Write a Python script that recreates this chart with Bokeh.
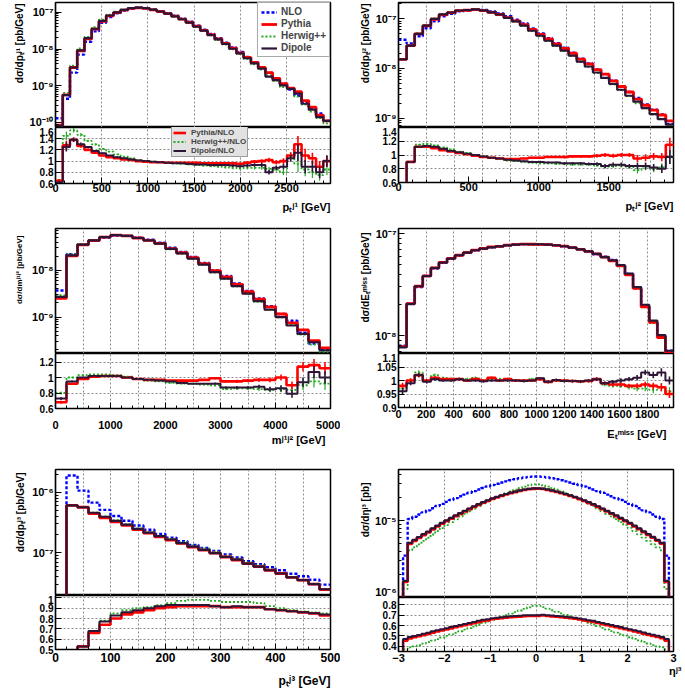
import numpy as np
from bokeh.plotting import figure
from bokeh.layouts import column, row
from bokeh.models import (Range1d, FixedTicker, CustomJSTickFormatter, Legend, LegendItem, Title)
from bokeh.embed import file_html
from bokeh.resources import INLINE

FONT = "Liberation Sans"
C_NLO, C_PY, C_HW, C_DI = "#0000ff", "#ff0000", "#22aa22", "#2e1437"

# ---------------- data ----------------
# panel 1 : pT j1
p1_edges = (0, 2975)
p1_nlo = [1.32e-10, 4.47e-10, 2.29e-9, 7.08e-9, 1.58e-8, 3.02e-8, 5.13e-8, 7.41e-8, 9.33e-8, 1.11e-7,
          1.25e-7, 1.32e-7, 1.29e-7, 1.19e-7, 1.07e-7, 9.4e-8, 8.09e-8, 6.73e-8, 5.52e-8, 4.34e-8,
          3.37e-8, 2.58e-8, 1.96e-8, 1.49e-8, 1.11e-8, 8.34e-9, 6.11e-9, 4.39e-9, 3.16e-9, 2.24e-9,
          1.62e-9, 1.15e-9, 7.94e-10, 5.37e-10, 3.63e-10, 2.51e-10, 1.78e-10, 1.12e-10]
p1_py = [0.65, 1.28, 1.38, 1.27, 1.2, 1.15, 1.1, 1.07, 1.05, 1.03, 1.02, 1.0, 0.99, 0.98, 0.98, 0.97, 0.97, 0.97,
         0.97, 0.97, 0.96, 0.96, 0.96, 0.96, 0.96, 0.95, 0.97, 0.99, 1.0, 1.02, 0.98, 1.0, 1.1, 1.3, 1.1, 1.05, 0.9, 1.0]
p1_hw = [0.65, 1.45, 1.55, 1.47, 1.36, 1.3, 1.22, 1.17, 1.12, 1.08, 1.05, 1.02, 1.0, 0.99, 0.98, 0.97, 0.96, 0.95,
         0.94, 0.93, 0.92, 0.91, 0.9, 0.89, 0.88, 0.87, 0.88, 0.88, 0.88, 0.86, 0.85, 0.8, 1.1, 0.95, 0.85, 0.8, 0.75, 0.85]
p1_di = [0.62, 1.25, 1.38, 1.3, 1.25, 1.18, 1.14, 1.1, 1.07, 1.05, 1.03, 1.01, 1.0, 0.99, 0.98, 0.97, 0.96, 0.96,
         0.95, 0.94, 0.94, 0.93, 0.93, 0.93, 0.92, 0.91, 0.92, 0.93, 0.93, 0.8, 0.88, 0.9, 1.05, 1.15, 0.9, 0.9, 0.8, 1.0]
p1_err = [0.03, 0.08, 0.04, 0.03, 0.02, 0.02, 0.015, 0.01, 0.01, 0.01, 0.01, 0.01, 0.01, 0.01, 0.01, 0.01, 0.01, 0.01,
          0.015, 0.015, 0.015, 0.02, 0.02, 0.02, 0.025, 0.025, 0.03, 0.03, 0.035, 0.04, 0.04, 0.05, 0.06, 0.15,
          0.12, 0.1, 0.1, 0.1]

# panel 2 : pT j2
p2_edges = (0, 1965)
p2_nlo = [3.8e-8, 3.2e-8, 4.47e-8, 6.49e-8, 8.93e-8, 1.13e-7, 1.27e-7, 1.42e-7, 1.48e-7, 1.55e-7,
          1.51e-7, 1.41e-7, 1.29e-7, 1.13e-7, 9.68e-8, 8.05e-8, 6.4e-8, 5.08e-8, 4.07e-8, 3.24e-8,
          2.61e-8, 2.07e-8, 1.57e-8, 1.26e-8, 9.55e-9, 7.69e-9, 5.7e-9, 4.33e-9, 3.36e-9, 2.55e-9,
          1.89e-9, 1.47e-9, 1.19e-9, 7.64e-10]
p2_py = [0.4, 0.9, 1.12, 1.12, 1.1, 1.07, 1.05, 1.03, 1.01, 0.99, 0.97, 0.96, 0.95, 0.94, 0.94, 0.95, 0.96,
         0.96, 0.97, 0.97, 0.97, 0.98, 0.98, 0.98, 0.99, 1.0, 0.99, 1.0, 1.0, 0.95, 0.96, 0.98, 0.97, 1.15]
p2_hw = [0.4, 0.9, 1.15, 1.16, 1.14, 1.11, 1.08, 1.05, 1.03, 1.0, 0.98, 0.96, 0.94, 0.92, 0.91, 0.9, 0.89,
         0.88, 0.88, 0.87, 0.87, 0.86, 0.86, 0.86, 0.85, 0.83, 0.84, 0.85, 0.83, 0.78, 0.83, 0.8, 0.82, 0.97]
p2_di = [0.4, 0.9, 1.12, 1.13, 1.12, 1.09, 1.06, 1.04, 1.02, 1.0, 0.98, 0.96, 0.95, 0.93, 0.92, 0.91, 0.9,
         0.9, 0.89, 0.89, 0.88, 0.88, 0.88, 0.87, 0.87, 0.84, 0.86, 0.86, 0.84, 0.84, 0.84, 0.82, 0.8, 0.97]
p2_err = [0.02, 0.01, 0.01, 0.01, 0.01, 0.01, 0.01, 0.01, 0.01, 0.01, 0.01, 0.01, 0.01, 0.01, 0.01, 0.01,
          0.015, 0.015, 0.015, 0.015, 0.02, 0.02, 0.02, 0.02, 0.025, 0.03, 0.03, 0.03, 0.03, 0.05, 0.05,
          0.05, 0.06, 0.1]

# panel 3 : m j1j2
p3_edges = (0, 5000)
p3_nlo = [3.69e-9, 2.2e-8, 3.55e-8, 4.28e-8, 5.02e-8, 5.51e-8, 5.43e-8, 5.0e-8, 4.5e-8, 3.87e-8,
          3.03e-8, 2.47e-8, 1.93e-8, 1.43e-8, 9.9e-9, 7.59e-9, 5.25e-9, 3.63e-9, 2.49e-9, 1.7e-9,
          1.16e-9, 8.35e-10, 4.65e-10, 2.7e-10, 1.95e-10]
p3_py = [0.68, 0.92, 0.98, 1.01, 1.02, 1.02, 1.0, 0.98, 0.97, 0.97, 0.96, 0.96, 0.96, 0.97, 0.99, 0.95,
         0.95, 0.96, 0.97, 0.97, 1.0, 0.9, 1.14, 1.16, 1.12]
p3_hw = [0.8, 1.0, 1.03, 1.04, 1.04, 1.03, 1.01, 0.98, 0.96, 0.95, 0.93, 0.92, 0.92, 0.91, 0.9, 0.85,
         0.86, 0.86, 0.85, 0.84, 0.85, 0.84, 0.9, 0.95, 0.92]
p3_di = [0.73, 0.95, 1.0, 1.02, 1.02, 1.02, 1.0, 0.98, 0.97, 0.96, 0.95, 0.93, 0.92, 0.92, 0.92, 0.87,
         0.87, 0.87, 0.88, 0.85, 0.86, 0.79, 0.94, 1.07, 1.0]
p3_err = [0.02, 0.01, 0.01, 0.005, 0.005, 0.005, 0.005, 0.005, 0.005, 0.005, 0.01, 0.01, 0.01, 0.01,
          0.015, 0.015, 0.02, 0.02, 0.025, 0.03, 0.04, 0.05, 0.06, 0.08, 0.08]

# panel 4 : missing ET
p4_edges = (0, 1990)
p4_nlo = [8.0e-9, 2.06e-8, 2.99e-8, 3.85e-8, 4.57e-8, 5.19e-8, 5.68e-8, 6.1e-8, 6.5e-8, 6.86e-8,
          7.14e-8, 7.33e-8, 7.5e-8, 7.67e-8, 7.8e-8, 7.87e-8, 7.85e-8, 7.79e-8, 7.83e-8, 7.66e-8,
          7.52e-8, 7.3e-8, 7.03e-8, 6.7e-8, 6.28e-8, 5.94e-8, 5.5e-8, 4.9e-8, 4.03e-8, 2.96e-8,
          1.95e-8, 1.38e-8, 9.86e-9, 7.13e-9]
p4_py = [0.98, 1.0, 1.02, 1.0, 1.01, 1.005, 1.005, 1.005, 1.0, 1.005, 1.0, 1.01, 1.0, 1.005, 1.0, 1.0, 1.0,
         1.005, 0.995, 1.0, 1.0, 0.998, 0.997, 0.998, 1.005, 0.99, 0.985, 0.985, 0.98, 0.98, 0.985, 0.98,
         0.975, 0.95]
p4_hw = [0.97, 1.0, 1.03, 1.0, 1.02, 1.01, 1.005, 1.005, 1.005, 1.01, 1.0, 1.005, 1.005, 1.005, 1.0, 1.0,
         1.005, 1.008, 0.995, 1.0, 1.0, 0.998, 0.995, 0.998, 1.005, 0.985, 0.98, 0.98, 0.975, 0.97, 0.97,
         0.965, 0.975, 0.96]
p4_di = [0.96, 0.99, 1.02, 0.995, 1.005, 1.0, 1.0, 1.005, 1.0, 1.0, 0.997, 1.0, 1.0, 1.0, 1.0, 0.998, 1.0,
         1.008, 0.995, 1.002, 0.998, 0.998, 0.997, 1.0, 1.005, 0.99, 0.995, 1.0, 1.005, 1.01, 1.03, 1.02,
         1.03, 1.0]
p4_err = [0.012, 0.008, 0.008, 0.006, 0.006, 0.005, 0.005, 0.005, 0.005, 0.005, 0.005, 0.005, 0.005, 0.005,
          0.005, 0.005, 0.005, 0.005, 0.005, 0.005, 0.005, 0.005, 0.005, 0.005, 0.006, 0.006, 0.007, 0.008,
          0.008, 0.01, 0.01, 0.012, 0.015, 0.015]

# panel 5 : pT j3
p5_edges = (0, 500)
p5_nlo = [1e-9, 1.91e-6, 1.07e-6, 6.76e-7, 5.13e-7, 4.07e-7, 3.39e-7, 2.82e-7, 2.4e-7, 2.04e-7,
          1.78e-7, 1.55e-7, 1.35e-7, 1.2e-7, 1.07e-7, 9.33e-8, 8.32e-8, 7.24e-8, 6.46e-8, 5.75e-8,
          5.13e-8, 4.47e-8, 4.07e-8, 3.55e-8, 2.95e-8]
p5_py = [0.4, 0.32, 0.53, 0.66, 0.74, 0.8, 0.84, 0.86, 0.88, 0.9, 0.91, 0.92, 0.92, 0.92, 0.92, 0.91, 0.91,
         0.91, 0.91, 0.89, 0.88, 0.87, 0.86, 0.85, 0.83]
p5_hw = [0.4, 0.32, 0.53, 0.68, 0.78, 0.85, 0.88, 0.9, 0.91, 0.93, 0.95, 0.97, 0.98, 0.98, 0.97, 0.96, 0.96,
         0.96, 0.95, 0.92, 0.9, 0.88, 0.87, 0.86, 0.85]
p5_di = [0.4, 0.32, 0.53, 0.68, 0.77, 0.83, 0.86, 0.88, 0.9, 0.92, 0.93, 0.93, 0.93, 0.93, 0.92, 0.91, 0.92,
         0.91, 0.91, 0.89, 0.88, 0.87, 0.86, 0.85, 0.84]

# panel 6 : eta j3
p6_edges = (-3, 3)
p6_nlo = [5.0e-7, 3.5e-6, 1.05e-5, 1.12e-5, 1.2e-5, 1.28e-5, 1.36e-5, 1.45e-5, 1.55e-5, 1.65e-5,
          1.75e-5, 1.85e-5, 1.96e-5, 2.07e-5, 2.18e-5, 2.3e-5, 2.42e-5, 2.54e-5, 2.66e-5, 2.78e-5,
          2.9e-5, 3.02e-5, 3.13e-5, 3.24e-5, 3.35e-5, 3.45e-5, 3.55e-5, 3.63e-5, 3.7e-5, 3.75e-5,
          3.75e-5, 3.7e-5, 3.63e-5, 3.55e-5, 3.45e-5, 3.35e-5, 3.24e-5, 3.13e-5, 3.02e-5, 2.9e-5,
          2.78e-5, 2.66e-5, 2.54e-5, 2.42e-5, 2.3e-5, 2.18e-5, 2.07e-5, 1.96e-5, 1.85e-5, 1.75e-5,
          1.65e-5, 1.55e-5, 1.45e-5, 1.36e-5, 1.28e-5, 1.2e-5, 1.12e-5, 1.05e-5, 3.5e-6, 5.0e-7]
p6_py = [0.3, 0.455, 0.475, 0.488, 0.498, 0.508, 0.518, 0.532, 0.543, 0.553, 0.563, 0.573, 0.583, 0.593,
         0.603, 0.613, 0.623, 0.633, 0.643, 0.65, 0.66, 0.665, 0.67, 0.675, 0.68, 0.683, 0.686, 0.69, 0.692,
         0.692, 0.693, 0.697, 0.692, 0.688, 0.684, 0.68, 0.675, 0.67, 0.665, 0.658, 0.65, 0.642, 0.634,
         0.624, 0.614, 0.604, 0.594, 0.584, 0.574, 0.564, 0.554, 0.544, 0.533, 0.521, 0.51, 0.5, 0.49,
         0.477, 0.455, 0.3]
p6_hw = [0.3, 0.37, 0.39, 0.4, 0.41, 0.425, 0.44, 0.455, 0.47, 0.485, 0.5, 0.515, 0.53, 0.545, 0.56, 0.575,
         0.59, 0.61, 0.625, 0.64, 0.655, 0.67, 0.685, 0.7, 0.715, 0.73, 0.745, 0.76, 0.775, 0.79,
         0.79, 0.778, 0.762, 0.747, 0.732, 0.717, 0.702, 0.687, 0.672, 0.657, 0.642, 0.627, 0.612, 0.594,
         0.578, 0.562, 0.547, 0.532, 0.517, 0.502, 0.487, 0.472, 0.457, 0.442, 0.427, 0.412, 0.4, 0.39,
         0.37, 0.3]
p6_di = [0.3, 0.47, 0.49, 0.5, 0.51, 0.52, 0.53, 0.545, 0.555, 0.565, 0.575, 0.585, 0.595, 0.605, 0.615,
         0.625, 0.635, 0.645, 0.655, 0.66, 0.67, 0.675, 0.68, 0.685, 0.69, 0.692, 0.695, 0.698, 0.7, 0.7,
         0.7, 0.705, 0.7, 0.697, 0.693, 0.69, 0.685, 0.68, 0.675, 0.668, 0.66, 0.652, 0.645, 0.635, 0.625,
         0.615, 0.605, 0.595, 0.585, 0.575, 0.565, 0.555, 0.545, 0.533, 0.522, 0.512, 0.502, 0.49, 0.47, 0.3]

# axis ranges and tick labels
p1_xlim, p1_ylim, p1_rlim = (0, 2975), (7.4e-11, 1.84e-7), (0.6, 1.6)
p2_xlim, p2_ylim, p2_rlim = (0, 1962), (6.46e-10, 2.14e-7), (0.6, 1.4)
p3_xlim, p3_ylim, p3_rlim = (0, 5000), (1.66e-10, 7.82e-8), (0.6, 1.31)
p4_xlim, p4_ylim, p4_rlim = (0, 1990), (6.7e-9, 1.12e-7), (0.9, 1.1)
p5_xlim, p5_ylim, p5_rlim = (0, 500), (1.95e-8, 2.4e-6), (0.5, 1.023)
p6_xlim, p6_ylim, p6_rlim = (-3, 3), (1.0e-6, 4.62e-5), (0.35, 0.87)
p1_yticks, p1_rticks = [1e-10, 1e-9, 1e-8, 1e-7], [0.6, 0.8, 1.0, 1.2, 1.4, 1.6]
p2_yticks, p2_rticks = [1e-9, 1e-8, 1e-7], [0.6, 0.8, 1.0, 1.2, 1.4]
p3_yticks, p3_rticks = [1e-9, 1e-8], [0.6, 0.8, 1.0, 1.2]
p4_yticks, p4_rticks = [1e-8, 1e-7], [0.9, 0.95, 1.0, 1.05, 1.1]
p5_yticks, p5_rticks = [1e-7, 1e-6], [0.5, 0.6, 0.7, 0.8, 0.9, 1.0]
p6_yticks, p6_rticks = [1e-6, 1e-5], [0.4, 0.5, 0.6, 0.7, 0.8]
p1_xticks = [0, 500, 1000, 1500, 2000, 2500]
p2_xticks = [0, 500, 1000, 1500]
p3_xticks = [0, 1000, 2000, 3000, 4000, 5000]
p4_xticks = [0, 200, 400, 600, 800, 1000, 1200, 1400, 1600, 1800]
p5_xticks = [0, 100, 200, 300, 400, 500]
p6_xticks = [-3, -2, -1, 0, 1, 2, 3]
p1_xgrid, p2_xgrid, p3_xgrid, p4_xgrid, p5_xgrid, p6_xgrid = 500, 200, 500, 200, 50, 1

# ---------------- helpers ----------------
log_fmt_code = """
const m = {'-':'\u207b','0':'\u2070','1':'\u00b9','2':'\u00b2','3':'\u00b3','4':'\u2074','5':'\u2075','6':'\u2076','7':'\u2077','8':'\u2078','9':'\u2079'};
const e = Math.round(Math.log10(tick));
return '10' + String(e).split('').map(c => m[c]).join('');
"""
lin_fmt_code = "return String(Math.round(tick*1000)/1000);"


def style_axes(p):
    p.outline_line_color = "black"
    p.outline_line_width = 1.5
    p.background_fill_color = "white"
    p.border_fill_color = "white"
    for ax in p.axis:
        ax.axis_line_color = "black"
        ax.axis_line_width = 1.2
        ax.major_tick_in = 6
        ax.major_tick_out = 0
        ax.minor_tick_in = 3
        ax.minor_tick_out = 0
        ax.major_tick_line_color = "black"
        ax.minor_tick_line_color = "black"
        ax.major_label_text_font = FONT
        ax.major_label_text_font_style = "bold"
        ax.major_label_text_color = "black"


def steps(v):
    v = np.asarray(v, float)
    return np.append(v, v[-1])


def panel(edges_lim, nlo, py, hw, di, err, xlim, ylim, rlim, yticks, rticks, xticks, xgrid,
          ylabel, xlabel, g, legends=False):
    n = len(nlo)
    edges = np.linspace(edges_lim[0], edges_lim[1], n + 1)
    centers = 0.5 * (edges[:-1] + edges[1:])
    nlo = np.asarray(nlo, float)
    py, hw, di = (np.asarray(a, float) for a in (py, hw, di))
    xr = Range1d(*xlim)
    step_minor = (xticks[1] - xticks[0]) / 5.0
    xminor = list(np.arange(xlim[0], xlim[1] + 1e-9, step_minor))
    gridpos = list(np.arange(xlim[0] + xgrid, xlim[1] - 1e-9, xgrid))

    main = figure(width=g["w"], height=g["hm"], x_range=xr, y_range=Range1d(*ylim),
                  y_axis_type="log", output_backend="svg", toolbar_location=None,
                  min_border_left=g["bl"], min_border_right=g["br"], min_border_top=g["bt"],
                  min_border_bottom=0)
    rat = figure(width=g["w"], height=g["hr"], x_range=xr, y_range=Range1d(*rlim),
                 output_backend="svg", toolbar_location=None,
                 min_border_left=g["bl"], min_border_right=g["br"], min_border_top=0,
                 min_border_bottom=g["bb"])
    for p in (main, rat):
        style_axes(p)
        p.xaxis.ticker = FixedTicker(ticks=xticks, minor_ticks=xminor)
        p.xgrid.ticker = FixedTicker(ticks=gridpos)
        p.xgrid.grid_line_color = "#8c8c8c"
        p.xgrid.grid_line_dash = "2 2"
        p.xgrid.grid_line_width = 1

    # main
    rn = main.step(edges, steps(nlo), mode="after", line_color=C_NLO, line_width=2.4, line_dash="3 2")
    rh = main.step(edges, steps(nlo * hw), mode="after", line_color=C_HW, line_width=1.8, line_dash="2 2")
    rp = main.step(edges, steps(nlo * py), mode="after", line_color=C_PY, line_width=2.8)
    rd = main.step(edges, steps(nlo * di), mode="after", line_color=C_DI, line_width=2.2)
    main.ygrid.visible = False
    decs = [yticks[0] / 10] + list(yticks) + [yticks[-1] * 10]
    main.yaxis.ticker = FixedTicker(ticks=yticks, minor_ticks=[k * t for t in decs for k in range(2, 10)])
    main.yaxis.formatter = CustomJSTickFormatter(code=log_fmt_code)
    main.yaxis.major_label_text_font_size = "11px"
    main.yaxis.major_label_standoff = 2
    main.xaxis.visible = False
    main.add_layout(Title(text=ylabel, align="right", text_font=FONT, text_font_style="bold",
                          text_font_size=g["yfs"], text_color="black", standoff=g["ystd"],
                          offset=g["yoff"]), "left")

    # ratio
    qh = rat.step(edges, steps(hw), mode="after", line_color=C_HW, line_width=1.8, line_dash="2 2")
    qp = rat.step(edges, steps(py), mode="after", line_color=C_PY, line_width=2.6)
    qd = rat.step(edges, steps(di), mode="after", line_color=C_DI, line_width=2.0)
    if err is not None:
        e = np.asarray(err, float)
        rat.segment(centers, hw - e, centers, hw + e, line_color=C_HW, line_width=1.2)
        rat.segment(centers, py - e, centers, py + e, line_color=C_PY, line_width=1.6)
        rat.segment(centers, di - e, centers, di + e, line_color=C_DI, line_width=1.6)
    rat.yaxis.ticker = FixedTicker(ticks=rticks)
    rat.yaxis.formatter = CustomJSTickFormatter(code=lin_fmt_code)
    rat.yaxis.major_label_text_font_size = "10px"
    rat.yaxis.major_label_standoff = 2
    rat.ygrid.ticker = FixedTicker(ticks=rticks)
    rat.ygrid.grid_line_color = "#8c8c8c"
    rat.ygrid.grid_line_dash = "2 2"
    rat.xaxis.major_label_text_font_size = g["xfs"]
    rat.xaxis.major_label_standoff = g["xstd"]
    rat.add_layout(Title(text=xlabel, align="right", text_font=FONT, text_font_style="bold",
                         text_font_size=g["lfs"], text_color="black", standoff=g["lstd"],
                         offset=g["xoff"]), "below")

    if legends:
        leg = Legend(items=[LegendItem(label="NLO", renderers=[rn]),
                            LegendItem(label="Pythia", renderers=[rp]),
                            LegendItem(label="Herwig++", renderers=[rh]),
                            LegendItem(label="Dipole", renderers=[rd])],
                     location="top_right")
        leg.margin = 0
        leg.padding = 3
        leg.spacing = 1
        leg.label_text_font = FONT
        leg.label_text_font_style = "bold"
        leg.label_text_font_size = "10px"
        leg.glyph_width = 16
        leg.glyph_height = 10
        leg.label_height = 10
        leg.label_standoff = 4
        leg.border_line_color = "#555555"
        leg.border_line_width = 1
        leg.background_fill_color = "white"
        leg.background_fill_alpha = 1
        main.add_layout(leg)

        leg2 = Legend(items=[LegendItem(label="Pythia/NLO", renderers=[qp]),
                             LegendItem(label="Herwig++/NLO", renderers=[qh]),
                             LegendItem(label="Dipole/NLO", renderers=[qd])],
                      location=(116, 26))
        leg2.margin = 0
        leg2.padding = 1
        leg2.spacing = 0
        leg2.label_text_font = FONT
        leg2.label_text_font_style = "bold"
        leg2.label_text_font_size = "8px"
        leg2.glyph_width = 13
        leg2.glyph_height = 9
        leg2.label_height = 9
        leg2.label_standoff = 5
        leg2.border_line_color = "#555555"
        leg2.border_line_width = 1
        leg2.background_fill_color = "#e2e2e2"
        leg2.background_fill_alpha = 1
        rat.add_layout(leg2)
    return main, rat


G1 = dict(w=340, hm=127, hr=98, bl=47, br=7, bt=2, bb=42, xstd=0, lstd=8, xfs="11px", lfs="11px",
          xoff=0, yfs="10px", ystd=3, yoff=1)
G2 = dict(w=345, hm=127, hr=98, bl=52, br=12, bt=2, bb=43, xstd=0, lstd=8, xfs="11px", lfs="11px",
          xoff=0, yfs="10px", ystd=4, yoff=1)
G3 = dict(w=340, hm=128, hr=102, bl=54, br=10, bt=3, bb=47, xstd=12, lstd=0, xfs="11px", lfs="11px",
          xoff=5, yfs="8px", ystd=12, yoff=7)
G4 = dict(w=345, hm=128, hr=102, bl=58, br=3, bt=3, bb=48, xstd=2, lstd=11, xfs="11px", lfs="11px",
          xoff=7, yfs="10px", ystd=4, yoff=4)
G5 = dict(w=340, hm=140, hr=99, bl=55, br=8, bt=14, bb=45, xstd=3, lstd=14, xfs="12px", lfs="12px",
          xoff=0, yfs="10px", ystd=8, yoff=3)
G6 = dict(w=345, hm=142, hr=97, bl=58, br=6, bt=14, bb=43, xstd=2, lstd=-4, xfs="11px", lfs="11px",
          xoff=-8, yfs="10px", ystd=4, yoff=13)

a1, b1 = panel(p1_edges, p1_nlo, p1_py, p1_hw, p1_di, p1_err, p1_xlim, p1_ylim, p1_rlim, p1_yticks,
               p1_rticks, p1_xticks, p1_xgrid, "d\u03c3/dp\u209c\u02b2\u00b9 [pb/GeV]",
               "p\u209c\u02b2\u00b9 [GeV]", G1, legends=True)
a2, b2 = panel(p2_edges, p2_nlo, p2_py, p2_hw, p2_di, p2_err, p2_xlim, p2_ylim, p2_rlim, p2_yticks,
               p2_rticks, p2_xticks, p2_xgrid, "d\u03c3/dp\u209c\u02b2\u00b2 [pb/GeV]",
               "p\u209c\u02b2\u00b2 [GeV]", G2)
a3, b3 = panel(p3_edges, p3_nlo, p3_py, p3_hw, p3_di, p3_err, p3_xlim, p3_ylim, p3_rlim, p3_yticks,
               p3_rticks, p3_xticks, p3_xgrid, "d\u03c3/dm\u02b2\u00b9\u02b2\u00b2 [pb/GeV]",
               "m\u02b2\u00b9\u02b2\u00b2 [GeV]", G3)
a4, b4 = panel(p4_edges, p4_nlo, p4_py, p4_hw, p4_di, p4_err, p4_xlim, p4_ylim, p4_rlim, p4_yticks,
               p4_rticks, p4_xticks, p4_xgrid, "d\u03c3/dE\u209c\u1d50\u2071\u02e2\u02e2 [pb/GeV]",
               "E\u209c\u1d50\u2071\u02e2\u02e2 [GeV]", G4)
a5, b5 = panel(p5_edges, p5_nlo, p5_py, p5_hw, p5_di, None, p5_xlim, p5_ylim, p5_rlim, p5_yticks,
               p5_rticks, p5_xticks, p5_xgrid, "d\u03c3/dp\u209c\u02b2\u00b3 [pb/GeV]",
               "p\u209c\u02b2\u00b3 [GeV]", G5)
a6, b6 = panel(p6_edges, p6_nlo, p6_py, p6_hw, p6_di, None, p6_xlim, p6_ylim, p6_rlim, p6_yticks,
               p6_rticks, p6_xticks, p6_xgrid, "d\u03c3/d\u03b7\u02b2\u00b3 [pb]",
               "\u03b7\u02b2\u00b3", G6)

left = column(a1, b1, a3, b3, a5, b5, spacing=0)
right = column(a2, b2, a4, b4, a6, b6, spacing=0)
root = row(left, right, spacing=0)

open("out.html", "w").write(file_html(root, INLINE))
